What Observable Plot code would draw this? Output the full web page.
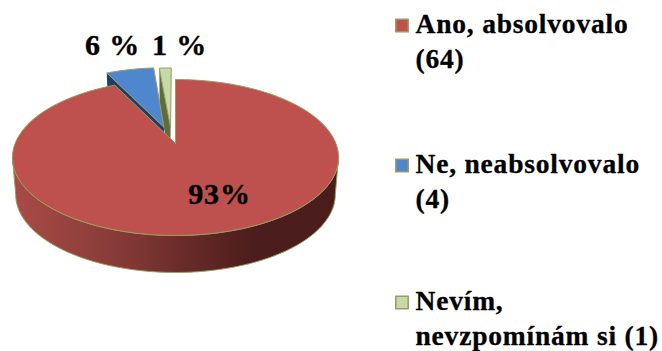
<!DOCTYPE html>
<html>
<head>
<meta charset="utf-8">
<script src="https://cdn.jsdelivr.net/npm/d3@7"></script>
<script src="https://cdn.jsdelivr.net/npm/@observablehq/plot@0.6"></script>
<style>
  html, body { margin: 0; padding: 0; background: #fff; }
  svg { display: block; }
</style>
</head>
<body>
<div id="chart"></div>
<script>
// Survey answers and their counts
const answers = ["Ano, absolvovalo", "Ne, neabsolvovalo", "Nevím, nevzpomínám si"];
const counts = [64, 4, 1];
const percentLabels = ["93%", "6 %", "1 %"];
const legendLabels = ["Ano, absolvovalo\n(64)", "Ne, neabsolvovalo\n(4)", "Nevím,\nnevzpomínám si (1)"];

// Colours per slice
const topColors = ["#be504d", "#4f87cf", "#c6d9a8"];
const cutColors = ["#7a302e", "#1d3f66", "#5f6b3e"];
const rimColor = "#9a9c62";

// Layout of the tilted disc, the pulled-out slices and the text
const W = 662, H = 351;
const disc = {cx: 175, k: 160.4, c: 0.1795, a: -49.8, b: 143, depth: 37, bottomScale: 0.98};
const pullX = [0, -0.075, -0.032];
const pullY = [0, 0.225, 0.22];
const labelPos = [[219, 194], [112, 45], [179, 45]];
const legendX = 415, swatchX = 401.5, legendY = [25, 165, 302];

// Perspective view of a point on the unit disc; level 0 is the top face, 1 the underside
function project(u, d, level) {
  const w = disc.c * d + 1;
  const s = level ? disc.bottomScale : 1;
  return {
    x: disc.cx + s * disc.k * u / w,
    y: (disc.a * d + disc.b) / w + level * disc.depth
  };
}

// Slice angles, clockwise from twelve o'clock
const total = d3.sum(counts);
let running = 0;
const slices = counts.map((c, i) => {
  const start = running / total * 2 * Math.PI;
  running += c;
  const end = running / total * 2 * Math.PI;
  return {i, start, end, ox: pullX[i], oy: pullY[i]};
});

function rimPoints(s, from, to, level) {
  const n = Math.max(8, Math.ceil((to - from) * 40));
  return d3.range(n + 1).map(j => {
    const t = from + (to - from) * j / n;
    return project(s.ox + Math.sin(t), s.oy + Math.cos(t), level);
  });
}

function topFace(s) {
  const apex = project(s.ox, s.oy, 0);
  return [apex, ...rimPoints(s, s.start, s.end, 0), apex];
}

// Outer wall of the big slice between the two widest points of the disc
function frontWall(s) {
  const edge = Math.acos(-disc.c);
  const upper = rimPoints(s, edge, 2 * Math.PI - edge, 0);
  const lower = rimPoints(s, edge, 2 * Math.PI - edge, 1).reverse();
  return [...upper, ...lower, upper[0]];
}

// Cut face seen along the left edge of a pulled-out slice
function cutFace(s) {
  const u = s.ox + Math.sin(s.start), d = s.oy + Math.cos(s.start);
  const pts = [project(s.ox, s.oy, 0), project(u, d, 0), project(u, d, 1), project(s.ox, s.oy, 1)];
  return [...pts, pts[0]];
}

const [red, blue, green] = slices;

const poly = (points, fill, stroke = "none", strokeWidth = 1) =>
  Plot.line(points, {x: "x", y: "y", fill, stroke, strokeWidth, curve: "linear"});

const legendRows = answers.map((name, i) => ({name, label: legendLabels[i], color: topColors[i], y: legendY[i]}));
const labelRows = percentLabels.map((text, i) => ({text, x: labelPos[i][0], y: labelPos[i][1]}));

const chart = Plot.plot({
  width: W,
  height: H,
  margin: 0,
  x: {domain: [0, W], range: [0, W], axis: null},
  y: {domain: [0, H], range: [0, H], axis: null},
  style: {background: "#fff", fontFamily: "'Liberation Serif', serif", letterSpacing: "0.8px"},
  marks: [
    // Shading of the outer wall, light on the left and dark on the right
    () => {
      const defs = d3.create("svg:defs");
      const g = defs.append("linearGradient").attr("id", "wallShade")
        .attr("gradientUnits", "userSpaceOnUse")
        .attr("x1", 15).attr("x2", 335).attr("y1", 0).attr("y2", 0);
      [[0, "#a84b47"], [0.33, "#853a37"], [0.6, "#5f2624"], [0.75, "#4b1d1c"], [1, "#4a1c1c"]]
        .forEach(([o, c]) => g.append("stop").attr("offset", o).attr("stop-color", c));
      return defs.node();
    },
    poly(cutFace(green), cutColors[2]),
    poly(topFace(green), topColors[2], rimColor),
    poly(cutFace(blue), cutColors[1]),
    poly(topFace(blue), topColors[1], rimColor),
    poly(frontWall(red), "url(#wallShade)", rimColor),
    poly(topFace(red), topColors[0], rimColor),
    Plot.text(labelRows, {
      x: "x", y: "y", text: "text", fontSize: 30, fontWeight: "bold", fill: "#000",
      stroke: "#000", strokeWidth: 0.4
    }),
    Plot.dot(legendRows, {
      x: swatchX, y: "y", symbol: "square", r: 7, fill: "color", stroke: rimColor, strokeWidth: 1.5
    }),
    Plot.text(legendRows, {
      x: legendX, y: "y", text: "label", textAnchor: "start", lineAnchor: "middle",
      lineHeight: 1.28, fontSize: 27.5, fontWeight: "bold", fill: "#000",
      stroke: "#000", strokeWidth: 0.3, dy: 14
    })
  ]
});
document.getElementById("chart").append(chart);
</script>
</body>
</html>
